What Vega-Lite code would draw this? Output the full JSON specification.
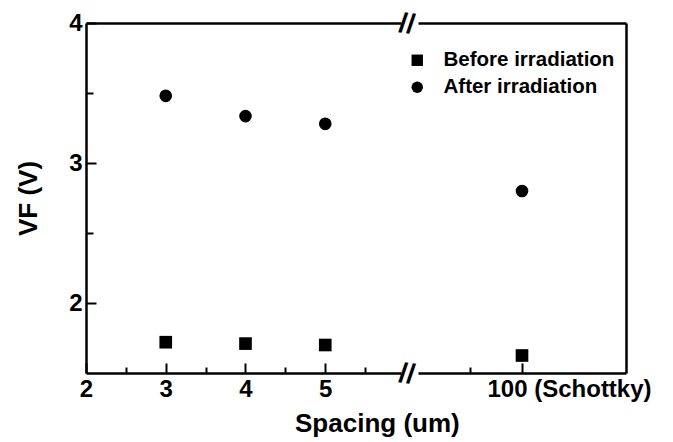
{
  "$schema": "https://vega.github.io/schema/vega-lite/v6.json",
  "background": "white",
  "padding": {"left": 15, "top": 9, "right": 0, "bottom": 0},
  "config": {
    "font": "Liberation Sans",
    "view": {"stroke": null},
    "axis": {
      "domainColor": "black", "domainWidth": 2.5, "tickColor": "black", "tickWidth": 2,
      "labelColor": "black", "labelFont": "Liberation Sans", "labelFontWeight": "bold", "labelFontSize": 24,
      "titleColor": "black", "titleFont": "Liberation Sans", "titleFontWeight": "bold", "titleFontSize": 26,
      "grid": false
    }
  },
  "data": {"values": [
    {"spacing": 3, "series": "Before irradiation", "vf": 1.72},
    {"spacing": 4, "series": "Before irradiation", "vf": 1.71},
    {"spacing": 5, "series": "Before irradiation", "vf": 1.70},
    {"spacing": 100, "series": "Before irradiation", "vf": 1.625},
    {"spacing": 3, "series": "After irradiation", "vf": 3.48},
    {"spacing": 4, "series": "After irradiation", "vf": 3.335},
    {"spacing": 5, "series": "After irradiation", "vf": 3.28},
    {"spacing": 100, "series": "After irradiation", "vf": 2.80}
  ]},
  "spacing": 1,
  "title": {"text": "Spacing (um)", "orient": "bottom", "anchor": "middle", "frame": "bounds", "dx": 44, "fontSize": 26, "fontWeight": "bold", "font": "Liberation Sans", "color": "black", "offset": 10},
  "hconcat": [
    {
      "width": 315, "height": 350,
      "transform": [{"filter": "datum.spacing < 10"}],
      "layer": [
        {
          "mark": {"type": "point", "filled": true, "opacity": 1, "size": 160, "color": "black"},
          "encoding": {
            "x": {"field": "spacing", "type": "quantitative", "scale": {"domain": [2, 5.95], "nice": false, "zero": false},
              "axis": {"orient": "bottom", "values": [2, 3, 4, 5], "title": null, "tickSize": -10, "labelPadding": 14, "labelFlush": false}},
            "y": {"field": "vf", "type": "quantitative", "scale": {"domain": [1.5, 4], "nice": false, "zero": false},
              "axis": {"orient": "left", "values": [2, 3, 4], "title": "VF (V)", "tickSize": -10, "labelPadding": 14, "titlePadding": 27, "labelFlush": false}},
            "shape": {"field": "series", "type": "nominal",
              "scale": {"domain": ["Before irradiation", "After irradiation"], "range": ["square", "circle"]},
              "legend": {"orient": "none", "legendX": 321, "legendY": 27, "title": null, "labelFontSize": 20.5, "labelFontWeight": "bold", "labelFont": "Liberation Sans", "labelColor": "black", "labelLimit": 0, "symbolSize": 130, "symbolFillColor": "black", "symbolStrokeColor": "black", "symbolType": "square", "rowPadding": 6, "labelOffset": 16}}
          }
        },
        {
          "mark": {"type": "point", "opacity": 0},
          "encoding": {
            "x": {"field": "spacing", "type": "quantitative", "axis": {"orient": "bottom", "values": [2.5, 3.5, 4.5, 5.5], "labels": false, "domain": false, "tickSize": -6, "title": null}},
            "y": {"field": "vf", "type": "quantitative", "axis": {"orient": "left", "values": [2.5, 3.5], "labels": false, "domain": false, "tickSize": -7, "title": null}}
          }
        },
        {
          "mark": {"type": "point", "opacity": 0},
          "encoding": {
            "x": {"field": "spacing", "type": "quantitative", "axis": {"orient": "top", "values": [], "labels": false, "ticks": false, "domain": true, "title": null}}
          }
        },
        {
          "data": {"values": [{"edge": "bottom"}]},
          "mark": {"type": "text", "text": "//", "fontSize": 28, "fontWeight": "bold", "font": "Liberation Sans", "color": "black", "baseline": "middle", "align": "center", "angle": 8, "dx": 6, "dy": 1, "clip": false},
          "encoding": {"x": {"datum": 5.95, "type": "quantitative", "axis": null}, "y": {"datum": 1.5, "type": "quantitative", "axis": null}}
        },
        {
          "data": {"values": [{"edge": "top"}]},
          "mark": {"type": "text", "text": "//", "fontSize": 28, "fontWeight": "bold", "font": "Liberation Sans", "color": "black", "baseline": "middle", "align": "center", "angle": 8, "dx": 6, "dy": 1, "clip": false},
          "encoding": {"x": {"datum": 5.95, "type": "quantitative", "axis": null}, "y": {"datum": 4, "type": "quantitative", "axis": null}}
        }
      ],
      "resolve": {"axis": {"x": "independent", "y": "independent"}}
    },
    {
      "width": 208, "height": 350,
      "transform": [{"filter": "datum.spacing > 10"}],
      "layer": [
        {
          "mark": {"type": "point", "filled": true, "opacity": 1, "size": 160, "color": "black"},
          "encoding": {
            "x": {"field": "spacing", "type": "quantitative", "scale": {"domain": [99, 101], "nice": false, "zero": false},
              "axis": {"orient": "bottom", "values": [100], "title": null, "tickSize": -10, "labelPadding": 14, "labelExpr": "'100 (Schottky)'", "labelAlign": "left", "labelOffset": -35, "labelFlush": false}},
            "y": {"field": "vf", "type": "quantitative", "scale": {"domain": [1.5, 4], "nice": false, "zero": false},
              "axis": {"orient": "right", "values": [], "labels": false, "ticks": false, "title": null}},
            "shape": {"field": "series", "type": "nominal",
              "scale": {"domain": ["Before irradiation", "After irradiation"], "range": ["square", "circle"]},
              "legend": null}
          }
        },
        {
          "mark": {"type": "point", "opacity": 0},
          "encoding": {
            "x": {"field": "spacing", "type": "quantitative", "axis": {"orient": "bottom", "values": [99.5], "labels": false, "domain": false, "tickSize": -6, "title": null}}
          }
        },
        {
          "mark": {"type": "point", "opacity": 0},
          "encoding": {
            "x": {"field": "spacing", "type": "quantitative", "axis": {"orient": "top", "values": [], "labels": false, "ticks": false, "domain": true, "title": null}}
          }
        }
      ],
      "resolve": {"axis": {"x": "independent", "y": "independent"}}
    }
  ]
}
